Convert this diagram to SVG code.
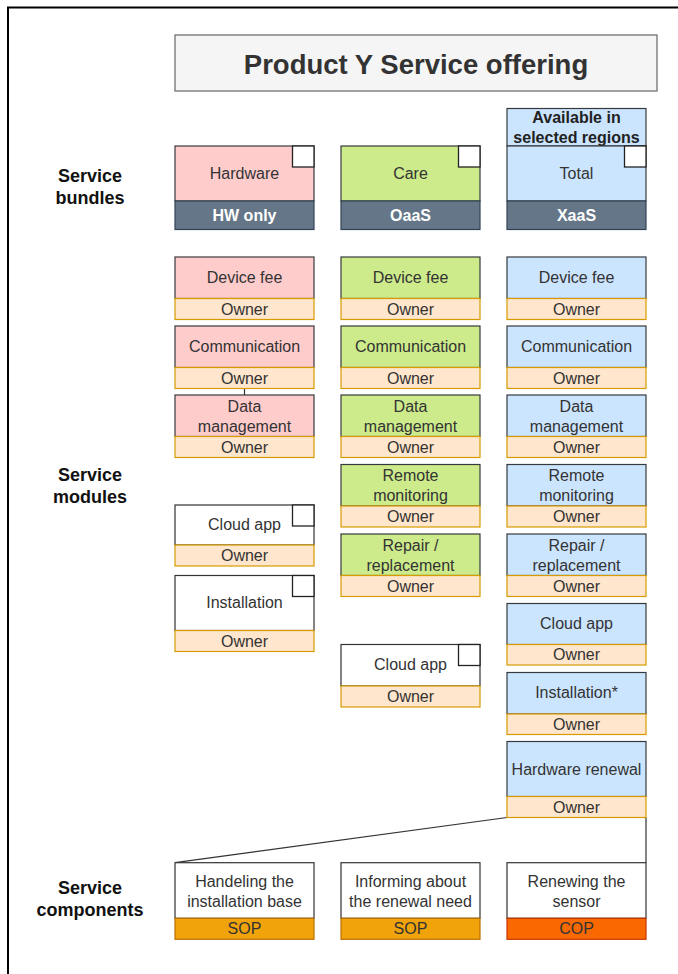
<svg xmlns="http://www.w3.org/2000/svg" width="678" height="974" viewBox="0 0 678 974">
  <style>
    .txt { font-family: "Liberation Sans", Arial, Helvetica, sans-serif; font-size: 16px; fill: #333333; text-anchor: middle; }
    .title { font-family: "Liberation Sans", Arial, Helvetica, sans-serif; font-size: 27.5px; font-weight: bold; fill: #333333; text-anchor: middle; }
    .side { font-family: "Liberation Sans", Arial, Helvetica, sans-serif; font-size: 18px; font-weight: bold; fill: #111111; text-anchor: middle; }
    .tag { font-family: "Liberation Sans", Arial, Helvetica, sans-serif; font-size: 16px; font-weight: bold; fill: #ffffff; text-anchor: middle; }
    .note { font-family: "Liberation Sans", Arial, Helvetica, sans-serif; font-size: 16px; font-weight: bold; fill: #222222; text-anchor: middle; }
    .pink { fill: #ffcccc; stroke: #36393d; stroke-width: 1.2; }
    .green { fill: #cdeb8b; stroke: #36393d; stroke-width: 1.2; }
    .blue { fill: #cce5ff; stroke: #36393d; stroke-width: 1.2; }
    .white { fill: #ffffff; stroke: #333333; stroke-width: 1.2; }
    .slate { fill: #647687; stroke: #314354; stroke-width: 1.2; }
    .owner { fill: #ffe6cc; stroke: #d79b00; stroke-width: 1.2; }
    .sop { fill: #f0a30a; stroke: #bd7000; stroke-width: 1.2; }
    .cop { fill: #fa6800; stroke: #c73500; stroke-width: 1.2; }
    .corner { fill: #ffffff; stroke: #222222; stroke-width: 1.3; }
    .link { fill: none; stroke: #333333; stroke-width: 1.2; }
  </style>

  <rect x="0" y="0" width="678" height="974" fill="#ffffff"/>
  <!-- page frame (left and top edges) -->
  <path d="M8 974 V7.5 H678" fill="none" stroke="#000000" stroke-width="2"/>

  <!-- title -->
  <g id="title">
    <rect x="175" y="35" width="482" height="56" fill="#f5f5f5" stroke="#666666" stroke-width="1.2"/>
    <text class="title" x="416" y="73.5">Product Y Service offering</text>
  </g>

  <!-- row headings -->
  <g id="label-bundles">
    <text class="side" x="90" y="181.5">Service</text>
    <text class="side" x="90" y="204">bundles</text>
  </g>
  <g id="label-modules">
    <text class="side" x="90" y="480.5">Service</text>
    <text class="side" x="90" y="503">modules</text>
  </g>
  <g id="label-components">
    <text class="side" x="90" y="893.5">Service</text>
    <text class="side" x="90" y="916">components</text>
  </g>

  <!-- connectors -->
  <g id="connectors">
    <line class="link" x1="244.5" y1="388.5" x2="244.5" y2="395"/>
    <line class="link" x1="175" y1="862.7" x2="507" y2="817.5"/>
    <line class="link" x1="646" y1="817.5" x2="646" y2="862.7"/>
  </g>

  <!-- service bundles -->
  <g id="bundle-hardware">
    <rect class="pink" x="175" y="146" width="139" height="55"/>
    <rect class="corner" x="292.5" y="146" width="21.5" height="21"/>
    <text class="txt" x="244.5" y="179">Hardware</text>
    <rect class="slate" x="175" y="201" width="139" height="28.5"/>
    <text class="tag" x="244.5" y="220.5">HW only</text>
  </g>
  <g id="bundle-care">
    <rect class="green" x="341" y="146" width="139" height="55"/>
    <rect class="corner" x="458.5" y="146" width="21.5" height="21"/>
    <text class="txt" x="410.5" y="179">Care</text>
    <rect class="slate" x="341" y="201" width="139" height="28.5"/>
    <text class="tag" x="410.5" y="220.5">OaaS</text>
  </g>
  <g id="bundle-total">
    <rect class="blue" x="507" y="108.5" width="139" height="37.5"/>
    <text class="note" x="576.5" y="123">Available in</text>
    <text class="note" x="576.5" y="143">selected regions</text>
    <rect class="blue" x="507" y="146" width="139" height="55"/>
    <rect class="corner" x="624.5" y="146" width="21.5" height="21"/>
    <text class="txt" x="576.5" y="179">Total</text>
    <rect class="slate" x="507" y="201" width="139" height="28.5"/>
    <text class="tag" x="576.5" y="220.5">XaaS</text>
  </g>

  <!-- service modules: column 1 (Hardware) -->
  <g id="hw-device-fee">
    <rect class="pink" x="175" y="257" width="139" height="41.5"/>
    <text class="txt" x="244.5" y="282.5">Device fee</text>
    <rect class="owner" x="175" y="298.5" width="139" height="21"/>
    <text class="txt" x="244.5" y="314.5">Owner</text>
  </g>
  <g id="hw-communication">
    <rect class="pink" x="175" y="326" width="139" height="41.5"/>
    <text class="txt" x="244.5" y="351.5">Communication</text>
    <rect class="owner" x="175" y="367.5" width="139" height="21"/>
    <text class="txt" x="244.5" y="383.5">Owner</text>
  </g>
  <g id="hw-data-management">
    <rect class="pink" x="175" y="395" width="139" height="41.5"/>
    <text class="txt" x="244.5" y="411.5">Data</text>
    <text class="txt" x="244.5" y="431.5">management</text>
    <rect class="owner" x="175" y="436.5" width="139" height="21"/>
    <text class="txt" x="244.5" y="452.5">Owner</text>
  </g>
  <g id="hw-cloud-app">
    <rect class="white" x="175" y="505" width="139" height="40"/>
    <rect class="corner" x="292.5" y="505" width="21.5" height="21"/>
    <text class="txt" x="244.5" y="530">Cloud app</text>
    <rect class="owner" x="175" y="545" width="139" height="21"/>
    <text class="txt" x="244.5" y="561">Owner</text>
  </g>
  <g id="hw-installation">
    <rect class="white" x="175" y="575.5" width="139" height="55"/>
    <rect class="corner" x="292.5" y="575.5" width="21.5" height="21"/>
    <text class="txt" x="244.5" y="608">Installation</text>
    <rect class="owner" x="175" y="630.5" width="139" height="21"/>
    <text class="txt" x="244.5" y="646.5">Owner</text>
  </g>

  <!-- service modules: column 2 (Care) -->
  <g id="care-device-fee">
    <rect class="green" x="341" y="257" width="139" height="41.5"/>
    <text class="txt" x="410.5" y="282.5">Device fee</text>
    <rect class="owner" x="341" y="298.5" width="139" height="21"/>
    <text class="txt" x="410.5" y="314.5">Owner</text>
  </g>
  <g id="care-communication">
    <rect class="green" x="341" y="326" width="139" height="41.5"/>
    <text class="txt" x="410.5" y="351.5">Communication</text>
    <rect class="owner" x="341" y="367.5" width="139" height="21"/>
    <text class="txt" x="410.5" y="383.5">Owner</text>
  </g>
  <g id="care-data-management">
    <rect class="green" x="341" y="395" width="139" height="41.5"/>
    <text class="txt" x="410.5" y="411.5">Data</text>
    <text class="txt" x="410.5" y="431.5">management</text>
    <rect class="owner" x="341" y="436.5" width="139" height="21"/>
    <text class="txt" x="410.5" y="452.5">Owner</text>
  </g>
  <g id="care-remote-monitoring">
    <rect class="green" x="341" y="464.5" width="139" height="41.5"/>
    <text class="txt" x="410.5" y="481">Remote</text>
    <text class="txt" x="410.5" y="501">monitoring</text>
    <rect class="owner" x="341" y="506" width="139" height="21"/>
    <text class="txt" x="410.5" y="522">Owner</text>
  </g>
  <g id="care-repair">
    <rect class="green" x="341" y="534" width="139" height="41.5"/>
    <text class="txt" x="410.5" y="550.5">Repair /</text>
    <text class="txt" x="410.5" y="570.5">replacement</text>
    <rect class="owner" x="341" y="575.5" width="139" height="21"/>
    <text class="txt" x="410.5" y="591.5">Owner</text>
  </g>
  <g id="care-cloud-app">
    <rect class="white" x="341" y="644.5" width="139" height="41.5"/>
    <rect class="corner" x="458.5" y="644.5" width="21.5" height="21"/>
    <text class="txt" x="410.5" y="670">Cloud app</text>
    <rect class="owner" x="341" y="686" width="139" height="21"/>
    <text class="txt" x="410.5" y="702">Owner</text>
  </g>

  <!-- service modules: column 3 (Total) -->
  <g id="total-device-fee">
    <rect class="blue" x="507" y="257" width="139" height="41.5"/>
    <text class="txt" x="576.5" y="282.5">Device fee</text>
    <rect class="owner" x="507" y="298.5" width="139" height="21"/>
    <text class="txt" x="576.5" y="314.5">Owner</text>
  </g>
  <g id="total-communication">
    <rect class="blue" x="507" y="326" width="139" height="41.5"/>
    <text class="txt" x="576.5" y="351.5">Communication</text>
    <rect class="owner" x="507" y="367.5" width="139" height="21"/>
    <text class="txt" x="576.5" y="383.5">Owner</text>
  </g>
  <g id="total-data-management">
    <rect class="blue" x="507" y="395" width="139" height="41.5"/>
    <text class="txt" x="576.5" y="411.5">Data</text>
    <text class="txt" x="576.5" y="431.5">management</text>
    <rect class="owner" x="507" y="436.5" width="139" height="21"/>
    <text class="txt" x="576.5" y="452.5">Owner</text>
  </g>
  <g id="total-remote-monitoring">
    <rect class="blue" x="507" y="464.5" width="139" height="41.5"/>
    <text class="txt" x="576.5" y="481">Remote</text>
    <text class="txt" x="576.5" y="501">monitoring</text>
    <rect class="owner" x="507" y="506" width="139" height="21"/>
    <text class="txt" x="576.5" y="522">Owner</text>
  </g>
  <g id="total-repair">
    <rect class="blue" x="507" y="534" width="139" height="41.5"/>
    <text class="txt" x="576.5" y="550.5">Repair /</text>
    <text class="txt" x="576.5" y="570.5">replacement</text>
    <rect class="owner" x="507" y="575.5" width="139" height="21"/>
    <text class="txt" x="576.5" y="591.5">Owner</text>
  </g>
  <g id="total-cloud-app">
    <rect class="blue" x="507" y="603.5" width="139" height="41"/>
    <text class="txt" x="576.5" y="629">Cloud app</text>
    <rect class="owner" x="507" y="644.5" width="139" height="20.5"/>
    <text class="txt" x="576.5" y="660">Owner</text>
  </g>
  <g id="total-installation">
    <rect class="blue" x="507" y="672.5" width="139" height="41.5"/>
    <text class="txt" x="576.5" y="698">Installation*</text>
    <rect class="owner" x="507" y="714" width="139" height="20.5"/>
    <text class="txt" x="576.5" y="729.5">Owner</text>
  </g>
  <g id="total-hardware-renewal">
    <rect class="blue" x="507" y="741.5" width="139" height="55"/>
    <text class="txt" x="576.5" y="774.5">Hardware renewal</text>
    <rect class="owner" x="507" y="796.5" width="139" height="21"/>
    <text class="txt" x="576.5" y="812.5">Owner</text>
  </g>

  <!-- service components -->
  <g id="component-installation-base">
    <rect class="white" x="175" y="862.7" width="139" height="55.6"/>
    <text class="txt" x="244.5" y="886.5">Handeling the</text>
    <text class="txt" x="244.5" y="906.5">installation base</text>
    <rect class="sop" x="175" y="918.3" width="139" height="21"/>
    <text class="txt" x="244.5" y="933.5">SOP</text>
  </g>
  <g id="component-renewal-need">
    <rect class="white" x="341" y="862.7" width="139" height="55.6"/>
    <text class="txt" x="410.5" y="886.5">Informing about</text>
    <text class="txt" x="410.5" y="906.5">the renewal need</text>
    <rect class="sop" x="341" y="918.3" width="139" height="21"/>
    <text class="txt" x="410.5" y="933.5">SOP</text>
  </g>
  <g id="component-renewing-sensor">
    <rect class="white" x="507" y="862.7" width="139" height="55.6"/>
    <text class="txt" x="576.5" y="886.5">Renewing the</text>
    <text class="txt" x="576.5" y="906.5">sensor</text>
    <rect class="cop" x="507" y="918.3" width="139" height="21"/>
    <text class="txt" x="576.5" y="933.5">COP</text>
  </g>
</svg>
